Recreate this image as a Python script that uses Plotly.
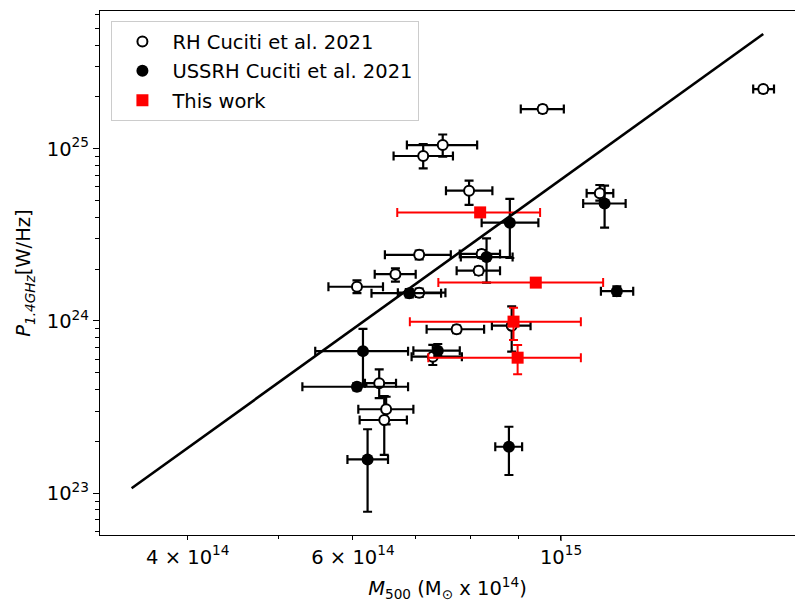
import plotly.graph_objects as go

# ---------------- data (mass in units of 1e14 Msun, power in W/Hz) ----------------
rh_m    = [9.56, 7.48, 7.13, 7.98, 11.0, 7.06, 8.23, 8.17, 6.66, 6.06, 7.06, 7.74, 8.86, 7.30, 6.40, 6.51, 6.48, 16.43]
rh_m_lo = [9.06, 6.85, 6.63, 7.54, 10.65, 6.49, 7.80, 7.74, 6.33, 5.65, 6.70, 7.19, 8.44, 6.93, 6.18, 6.08, 6.10, 16.03]
rh_m_hi = [10.07, 8.14, 7.67, 8.45, 11.37, 7.63, 8.61, 8.61, 7.00, 6.46, 7.53, 8.28, 9.28, 7.84, 6.67, 6.96, 6.85, 16.87]
rh_p    = [1.70e25, 1.05e25, 9.08e24, 5.71e24, 5.52e24, 2.42e24, 2.45e24, 1.96e24, 1.87e24, 1.58e24, 1.46e24, 8.95e23, 9.39e23, 6.20e23, 4.35e23, 3.07e23, 2.66e23, 2.22e25]
rh_p_lo = [1.62e25, 0.90e25, 7.70e24, 4.72e24, 5.00e24, 2.28e24, 2.32e24, 1.86e24, 1.69e24, 1.45e24, 1.38e24, 8.5e23, 6.63e23, 5.55e23, 3.56e23, 2.51e23, 1.67e23, 2.12e25]
rh_p_hi = [1.78e25, 1.21e25, 1.066e25, 6.53e24, 6.16e24, 2.56e24, 2.58e24, 2.06e24, 2.02e24, 1.72e24, 1.54e24, 9.4e23, 1.215e24, 7.26e23, 5.24e23, 3.63e23, 3.66e23, 2.32e25]

us_m    = [8.82, 11.13, 8.33, 11.47, 6.89, 6.15, 7.39, 6.06, 6.22, 8.80]
us_m_lo = [8.23, 10.56, 7.82, 11.03, 6.28, 5.47, 6.96, 5.30, 5.92, 8.51]
us_m_hi = [9.46, 11.72, 8.88, 11.94, 7.45, 6.87, 7.80, 6.87, 6.54, 9.09]
us_p    = [3.72e24, 4.81e24, 2.35e24, 1.49e24, 1.45e24, 6.68e23, 6.72e23, 4.15e23, 1.57e23, 1.86e23]
us_p_lo = [2.32e24, 3.48e24, 1.67e24, 1.40e24, 1.37e24, 4.25e23, 6.25e23, 3.95e23, 7.8e22, 1.275e23]
us_p_hi = [5.11e24, 6.10e24, 3.02e24, 1.59e24, 1.53e24, 8.99e23, 7.35e23, 4.36e23, 2.35e23, 2.43e23]

tw_m    = [8.20, 9.40, 8.90, 8.99]
tw_m_lo = [6.69, 7.40, 6.90, 7.22]
tw_m_hi = [9.50, 11.09, 10.50, 10.50]
tw_p    = [4.27e24, 1.67e24, 9.91e23, 6.12e23]
tw_p_lo = [4.05e24, 1.58e24, 7.76e23, 4.90e23]
tw_p_hi = [4.50e24, 1.76e24, 1.195e24, 7.25e23]

fit_m = [3.485, 16.43]
fit_p = [1.068e23, 4.64e25]

x_tick_vals = [4e14, 6e14, 1e15]
x_tick_text = ["4 \u00d7 10<sup>14</sup>", "6 \u00d7 10<sup>14</sup>", "10<sup>15</sup>"]
y_tick_vals = [1e23, 1e24, 1e25]
y_tick_text = ["10<sup>23</sup>", "10<sup>24</sup>", "10<sup>25</sup>"]

M_UNIT = 1e14


def scaled(v):
    return [a * M_UNIT for a in v]


def err(c, lo, hi):
    return [h - a for a, h in zip(c, hi)], [a - l for a, l in zip(c, lo)]


def add_series(fig, m, mlo, mhi, p, plo, phi, name, color, marker, lw, cap, group):
    ex_p, ex_m = err(scaled(m), scaled(mlo), scaled(mhi))
    ey_p, ey_m = err(p, plo, phi)
    fig.add_trace(go.Scatter(
        x=scaled(m), y=p, mode="markers", name=name, legendgroup=group,
        marker=marker,
        error_x=dict(type="data", symmetric=False, array=ex_p, arrayminus=ex_m,
                     color=color, thickness=lw, width=cap),
        error_y=dict(type="data", symmetric=False, array=ey_p, arrayminus=ey_m,
                     color=color, thickness=lw, width=cap),
    ))


fig = go.Figure()
add_series(fig, rh_m, rh_m_lo, rh_m_hi, rh_p, rh_p_lo, rh_p_hi,
           "RH Cuciti et al. 2021", "black",
           dict(symbol="circle", size=10, color="white", line=dict(color="black", width=2)),
           2.2, 4.5, "g1")
add_series(fig, us_m, us_m_lo, us_m_hi, us_p, us_p_lo, us_p_hi,
           "USSRH Cuciti et al. 2021", "black",
           dict(symbol="circle", size=12, color="black", line=dict(color="black", width=0)),
           2.2, 4.5, "g2")
add_series(fig, tw_m, tw_m_lo, tw_m_hi, tw_p, tw_p_lo, tw_p_hi,
           "This work", "red",
           dict(symbol="square", size=12, color="red", line=dict(color="red", width=0)),
           2.0, 4.5, "g3")

fig.add_trace(go.Scatter(x=scaled(fit_m), y=fit_p, mode="lines",
                         line=dict(color="black", width=2.6), showlegend=False,
                         hoverinfo="skip"))

y_minor = []
for e in range(22, 26):
    for d in range(2, 10):
        y_minor.append(float(d) * 10.0 ** e)

fig.update_layout(
    width=795, height=606,
    margin=dict(l=100, r=0, t=11, b=71),
    paper_bgcolor="white", plot_bgcolor="white",
    font=dict(family="DejaVu Sans", size=19.5, color="black"),
    showlegend=True,
    legend=dict(x=0.016, y=0.981, xanchor="left", yanchor="top",
                bordercolor="#cccccc", borderwidth=1.3, bgcolor="rgba(255,255,255,0.85)",
                font=dict(size=19.5), traceorder="grouped", tracegroupgap=1,
                itemwidth=50),
    xaxis=dict(
        type="log", range=[14.5085, 15.2495],
        tickmode="array", tickvals=x_tick_vals, ticktext=x_tick_text,
        ticks="outside", ticklen=4, tickwidth=1.2, tickcolor="black",
        showline=True, linecolor="black", linewidth=1.3, mirror=True,
        showgrid=False, zeroline=False,
        minor=dict(tickvals=[5e14, 7e14, 8e14, 9e14], ticks="outside", ticklen=3,
                   tickwidth=1.0, tickcolor="black", showgrid=False),
        title=dict(text="<i>M</i><sub>500</sub> (M<sub>\u2299</sub> x 10<sup>14</sup>)",
                   standoff=13, font=dict(size=19.5)),
    ),
    yaxis=dict(
        type="log", range=[22.757, 25.80],
        tickmode="array", tickvals=y_tick_vals, ticktext=y_tick_text,
        ticks="outside", ticklen=6, tickwidth=1.2, tickcolor="black",
        showline=True, linecolor="black", linewidth=1.3, mirror=False,
        showgrid=False, zeroline=False,
        minor=dict(tickvals=y_minor, ticks="outside", ticklen=3.5,
                   tickwidth=1.0, tickcolor="black", showgrid=False),
        title=dict(text="<i>P</i><sub><i>1.4GHz</i></sub>[W/Hz]",
                   standoff=10, font=dict(size=19.5)),
    ),
)

# longer major tick at 10^15 like the original
fig.add_shape(type="line", xref="x", yref="paper", x0=1e15, x1=1e15,
              y0=0, y1=-6, ysizemode="pixel", yanchor=0,
              line=dict(color="black", width=1.2))

fig.write_html("out.html")
